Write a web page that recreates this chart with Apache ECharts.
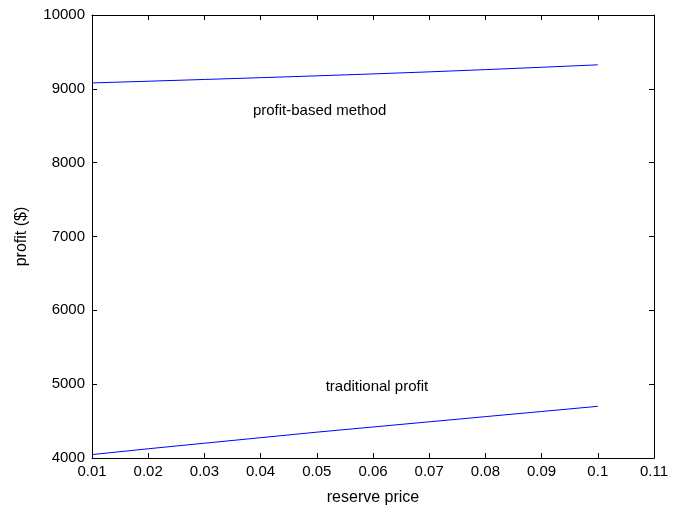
<!DOCTYPE html>
<html>
<head>
<meta charset="utf-8">
<script src="https://cdn.jsdelivr.net/npm/echarts@6/dist/echarts.min.js"></script>
<style>
  html, body { margin: 0; padding: 0; background: #fff; }
  #chart { width: 685px; height: 506px; }
</style>
</head>
<body>
<div id="chart"></div>
<script>
// reserve price (x) and the two profit curves
const reservePrice = [0.01, 0.02, 0.03, 0.04, 0.05, 0.06, 0.07, 0.08, 0.09, 0.1];
const profitBased = [9080, 9103, 9127, 9151, 9176, 9202, 9230, 9260, 9292, 9325];
const traditional = [4046, 4125, 4200, 4275, 4350, 4420, 4490, 4560, 4630, 4700];
// annotation texts and where they sit, in data units
const notes = [
  { text: 'profit-based method', at: [0.0505, 8700] },
  { text: 'traditional profit', at: [0.0607, 4970] }
];

const chart = echarts.init(document.getElementById('chart'));
const font = 'Liberation Sans, Arial, sans-serif';
const fmt = v => String(+v.toFixed(2));

const xBase = {
  type: 'value', min: 0.01, max: 0.11, interval: 0.01,
  axisLine: { show: true, onZero: false, lineStyle: { color: '#000', width: 1 } },
  axisTick: { show: true, inside: true, length: 5, lineStyle: { color: '#000' } },
  splitLine: { show: false }
};
const yBase = {
  type: 'value', min: 4000, max: 10000, interval: 1000,
  axisLine: { show: true, onZero: false, lineStyle: { color: '#000', width: 1 } },
  axisTick: { show: true, inside: true, length: 5, lineStyle: { color: '#000' } },
  splitLine: { show: false }
};

chart.setOption({
  animation: false,
  backgroundColor: '#fff',
  grid: { left: 92, right: 31, top: 15, bottom: 48, outerBoundsMode: 'none' },
  xAxis: [
    Object.assign({}, xBase, {
      position: 'bottom',
      name: 'reserve price', nameLocation: 'middle', nameGap: 32,
      nameTextStyle: { color: '#000', fontSize: 16, fontFamily: font },
      axisLabel: { color: '#000', fontSize: 15, fontFamily: font, margin: 6, formatter: fmt }
    }),
    Object.assign({}, xBase, { position: 'top', axisLabel: { show: false } })
  ],
  yAxis: [
    Object.assign({}, yBase, {
      position: 'left',
      name: 'profit ($)', nameLocation: 'middle', nameGap: 62,
      nameTextStyle: { color: '#000', fontSize: 16, fontFamily: font },
      axisLabel: { color: '#000', fontSize: 15, fontFamily: font, margin: 7, formatter: v => String(v) }
    }),
    Object.assign({}, yBase, { position: 'right', axisLabel: { show: false } })
  ],
  series: [
    {
      name: 'profit-based method', type: 'line', symbol: 'none',
      lineStyle: { color: '#0000ff', width: 1 },
      data: reservePrice.map((x, i) => [x, profitBased[i]]),
      markPoint: {
        symbolSize: 0,
        label: { show: true, color: '#000', fontSize: 15, fontFamily: font, formatter: p => p.name },
        data: [{ name: notes[0].text, coord: notes[0].at }]
      }
    },
    {
      name: 'traditional profit', type: 'line', symbol: 'none',
      lineStyle: { color: '#0000ff', width: 1 },
      data: reservePrice.map((x, i) => [x, traditional[i]]),
      markPoint: {
        symbolSize: 0,
        label: { show: true, color: '#000', fontSize: 15, fontFamily: font, formatter: p => p.name },
        data: [{ name: notes[1].text, coord: notes[1].at }]
      }
    }
  ]
});
</script>
</body>
</html>
